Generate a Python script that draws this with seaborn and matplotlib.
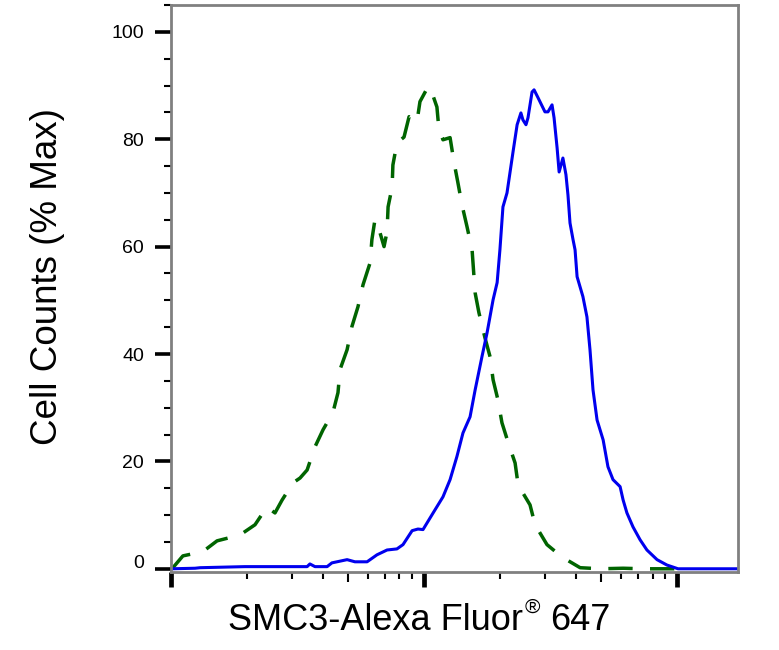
import numpy as np
import pandas as pd
import matplotlib
matplotlib.use("Agg")
import matplotlib.pyplot as plt
import matplotlib.transforms as mtransforms
from matplotlib import font_manager
import seaborn as sns

# ---- data (x as log10 fluorescence intensity, y as % of max) ----
iso_log = [1.004, 1.047, 1.126, 1.182, 1.273, 1.332, 1.379, 1.411, 1.439, 1.482,
           1.510, 1.538, 1.569, 1.601, 1.640, 1.660, 1.668, 1.696, 1.715, 1.739,
           1.759, 1.787, 1.794, 1.806, 1.826, 1.842, 1.854, 1.858, 1.874, 1.877,
           1.893, 1.921, 1.941, 1.972, 1.984, 2.016, 2.032, 2.051, 2.059, 2.075,
           2.103, 2.119, 2.134, 2.150, 2.170, 2.190, 2.202, 2.217, 2.241, 2.261,
           2.273, 2.292, 2.308, 2.332, 2.360, 2.372, 2.419, 2.439, 2.486, 2.545,
           2.617, 2.696, 2.787, 2.866, 2.960, 3.010]
iso_pct = [0.0, 2.4, 3.2, 5.2, 6.3, 8.2, 11.5, 10.4, 12.8, 16.0,
           16.9, 18.4, 22.7, 25.9, 29.1, 32.8, 37.1, 40.8, 45.1, 48.8,
           52.9, 57.0, 61.3, 65.0, 62.6, 60.0, 62.8, 67.4, 71.1, 75.2,
           79.3, 80.4, 84.2, 83.2, 87.0, 89.8, 88.6, 86.0, 81.8, 79.9,
           80.3, 75.6, 71.9, 67.8, 63.7, 59.4, 51.4, 47.7, 43.0, 39.5,
           35.2, 31.5, 27.2, 23.6, 19.7, 15.6, 11.9, 8.2, 4.5, 2.2,
           0.2, 0.0, 0.1, 0.0, 0.0, 0.0]

smc3_log = [1.004, 1.095, 1.115, 1.292, 1.352, 1.538, 1.549, 1.569, 1.617, 1.636,
            1.696, 1.727, 1.775, 1.814, 1.854, 1.893, 1.917, 1.953, 1.976, 1.996,
            2.036, 2.075, 2.103, 2.130, 2.154, 2.182, 2.202, 2.229, 2.249, 2.273,
            2.289, 2.300, 2.312, 2.328, 2.352, 2.368, 2.383, 2.391, 2.403, 2.411,
            2.427, 2.435, 2.451, 2.478, 2.490, 2.506, 2.514, 2.526, 2.534, 2.549,
            2.561, 2.569, 2.577, 2.589, 2.597, 2.605, 2.628, 2.644, 2.656, 2.668,
            2.684, 2.708, 2.727, 2.747, 2.775, 2.787, 2.802, 2.826, 2.854, 2.881,
            2.921, 2.960, 3.004, 3.051, 3.241]
smc3_pct = [0.0, 0.1, 0.2, 0.4, 0.4, 0.4, 0.9, 0.4, 0.4, 1.1,
            1.7, 1.3, 1.3, 2.6, 3.5, 3.7, 4.5, 7.1, 7.4, 7.3,
            10.4, 13.4, 16.6, 20.9, 25.3, 28.3, 33.3, 39.5, 43.9, 50.1,
            53.3, 59.4, 67.4, 70.0, 77.7, 82.7, 84.9, 83.6, 82.7, 84.0,
            88.8, 89.2, 87.7, 85.1, 85.1, 86.4, 84.0, 78.4, 73.9, 76.5,
            73.4, 69.6, 64.4, 61.3, 59.4, 54.4, 50.7, 46.9, 40.8, 33.3,
            27.7, 24.0, 19.0, 16.6, 15.3, 12.8, 10.4, 7.8, 5.4, 3.5,
            1.7, 0.7, 0.0, 0.0, 0.0]

y_major = [0, 20, 40, 60, 80, 100]
y_labels = ["0", "20", "40", "60", "80", "100"]
x_label_main = "SMC3-Alexa Fluor"
x_label_sup = "®"
x_label_tail = "647"
y_label = "Cell Counts (% Max)"

iso_df = pd.DataFrame({"intensity": 10 ** np.array(iso_log), "pct": iso_pct})
smc3_df = pd.DataFrame({"intensity": 10 ** np.array(smc3_log), "pct": smc3_pct})

# ---- style ----
sns.set_theme(style="white")
plt.rcParams["font.family"] = ["Liberation Sans", "DejaVu Sans"]
available = {f.name for f in font_manager.fontManager.ttflist}
if "Liberation Sans Narrow" in available:
    tick_family, tick_size = ["Liberation Sans Narrow", "Liberation Sans"], 15
else:
    tick_family, tick_size = ["Liberation Sans", "DejaVu Sans"], 14

fig = plt.figure(figsize=(7.79, 6.5), dpi=100)
ax = fig.add_axes([171 / 779, 1 - 572 / 650, 567 / 779, 567 / 650])

sns.lineplot(data=iso_df, x="intensity", y="pct", ax=ax, color="#006400",
             linewidth=2.5, estimator=None, sort=False,
             linestyle=(0, (7, 5)))
sns.lineplot(data=smc3_df, x="intensity", y="pct", ax=ax, color="#0000EE",
             linewidth=2.2, estimator=None, sort=False)

ax.set_xscale("log")
ax.set_xlim(10 ** 1, 10 ** 3.241)
ax.set_ylim(-0.6, 105)

# spines
for s in ax.spines.values():
    s.set_color("#808080")
    s.set_linewidth(2.0)
    s.set_visible(True)

# x ticks
ax.set_xticks([10, 100, 1000])
ax.set_xticklabels([])
minor_x = [m * 10 ** e for e in (1, 2) for m in (2, 3, 4, 6, 7, 8, 9)]
ax.set_xticks(minor_x, minor=True)
ax.tick_params(axis="x", which="major", direction="out", length=11, width=3.4,
               color="black", bottom=True, labelbottom=False)
ax.tick_params(axis="x", which="minor", direction="out", length=5, width=1.5,
               color="black", bottom=True, labelbottom=False)
sec = ax.secondary_xaxis("bottom")
sec.set_xticks([50, 500])
sec.set_xticklabels([])
sec.xaxis.set_minor_locator(matplotlib.ticker.NullLocator())
sec.tick_params(axis="x", which="major", direction="out", length=7.5, width=1.5,
                color="black")
sec.spines["bottom"].set_visible(False)

# y ticks
ax.set_yticks(y_major)
ax.set_yticklabels(y_labels, family=tick_family, fontsize=tick_size, color="black")
ax.set_yticks([v for v in range(5, 106, 5) if v % 20 != 0], minor=True)
ax.tick_params(axis="y", which="major", direction="out", length=11.5, width=2.6,
               color="black", left=True, pad=8)
ax.tick_params(axis="y", which="minor", direction="out", length=5, width=1.5,
               color="black", left=True)
zero_lbl = ax.get_yticklabels()[0]
zero_lbl.set_transform(zero_lbl.get_transform() +
                       mtransforms.ScaledTranslation(0, 7 / 100, fig.dpi_scale_trans))

ax.set_xlabel("")
ax.set_ylabel("")
ax.grid(False)

# x label built from pieces so the registered sign is a small superscript
t1 = fig.text(228 / 779, 1 - 630 / 650, x_label_main, fontsize=26, ha="left",
              va="baseline", color="black")
fig.canvas.draw()
bb = t1.get_window_extent()
t2 = fig.text((bb.x1 + 2) / 779, 1 - 613 / 650, x_label_sup, fontsize=15,
              ha="left", va="baseline", color="black")
fig.canvas.draw()
bb2 = t2.get_window_extent()
fig.text((bb2.x1 + 10) / 779, 1 - 630 / 650, x_label_tail, fontsize=26,
         ha="left", va="baseline", color="black")

fig.text(57 / 779, 1 - 277 / 650, y_label, fontsize=26.5, rotation=90,
         rotation_mode="anchor", ha="center", va="baseline", color="black")

fig.savefig("out.png", dpi=100, facecolor="white")
